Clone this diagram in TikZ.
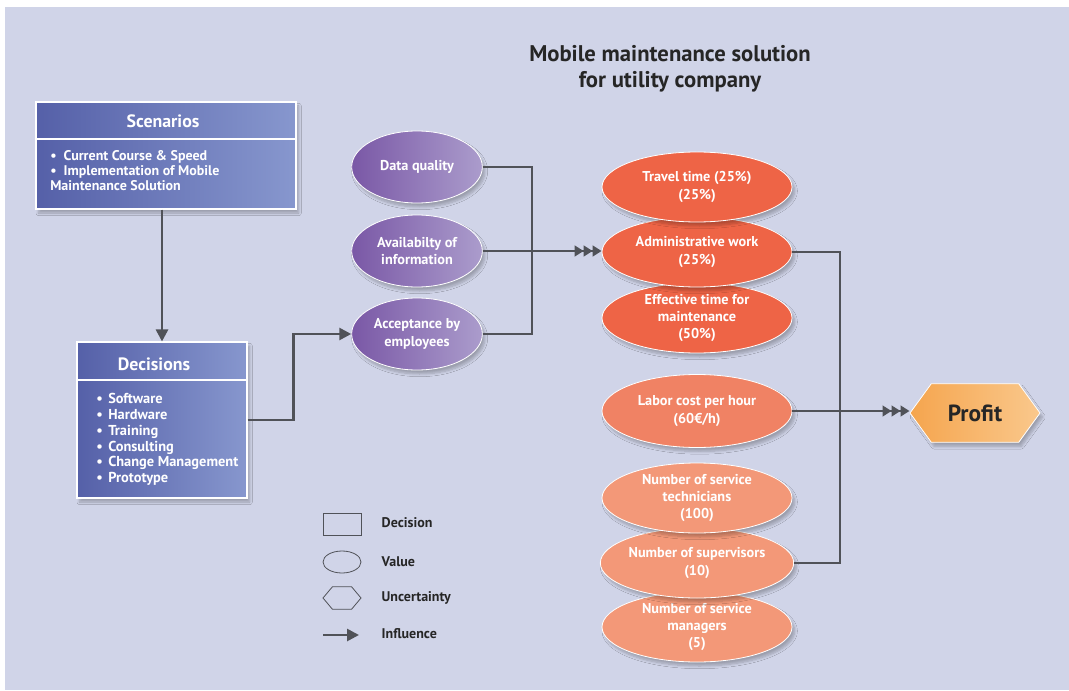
\documentclass[tikz,border=0pt]{standalone}
\usepackage{fontspec}
\setmainfont{PT Sans}
\usetikzlibrary{shapes.geometric,shapes.symbols,arrows.meta,shadows.blur}
\definecolor{panel}{HTML}{D0D4E8}
\definecolor{ink}{HTML}{262626}
\definecolor{conn}{HTML}{505258}
\definecolor{boxl}{HTML}{5560A8}
\definecolor{boxr}{HTML}{8797CE}
\definecolor{purl}{HTML}{7A58A6}
\definecolor{purr}{HTML}{AB9CCC}
\definecolor{redval}{HTML}{EE6446}
\definecolor{laborval}{HTML}{F08264}
\definecolor{salmon}{HTML}{F39878}
\definecolor{profl}{HTML}{F5A54E}
\definecolor{profr}{HTML}{FAC88C}
\tikzset{
  soft/.style={blur shadow={shadow xshift=2pt,shadow yshift=-3pt,shadow opacity=25,shadow blur steps=6}},
  box/.style={draw=white,line width=0.8pt,left color=boxl,right color=boxr,inner sep=0pt,soft},
  val/.style={ellipse,draw=white,line width=0.6pt,inner sep=0pt,align=center,text=white,
    font=\bfseries\fontsize{10.7}{13}\selectfont,soft},
  purval/.style={val,left color=purl,right color=purr,minimum width=98pt,minimum height=54pt},
  redv/.style={val,fill=#1,minimum width=142.5pt,minimum height=52.5pt},
  conn/.style={draw=conn,line width=2pt},
  tip/.style={conn,-{Triangle[length=9pt,width=9pt]}},
  tips/.style={conn,-{Triangle[length=6.75pt,width=8pt]Triangle[length=6.75pt,width=8pt]Triangle[length=6.75pt,width=8pt]}},
  legtxt/.style={anchor=west,text=ink,font=\bfseries\fontsize{10.5}{12}\selectfont},
  legshape/.style={draw=conn,line width=0.6pt,inner sep=0pt}
}
\begin{document}
\begin{tikzpicture}[x=0.75pt,y=-0.75pt]
\useasboundingbox (0,0) rectangle (1069,691);
\fill[panel] (5,7) rectangle (1069,690);
\node[text=ink,align=center,font=\bfseries\fontsize{17}{19.5}\selectfont] (title) at (670,69) {Mobile maintenance solution\\for utility company};

\node[box,minimum width=195pt,minimum height=80.25pt] (scen) at (166,155.5) {};
\draw[white,line width=0.8pt] (scen.west |- 0,139) -- (scen.east |- 0,139);
\node[text=white,font=\bfseries\fontsize{13.4}{15}\selectfont] (scentitle) at (163,121) {Scenarios};
\node[anchor=west,inner sep=0pt,align=left,text=white,font=\bfseries\fontsize{10.5}{11.25}\selectfont] (scenbody) at (50,171)
  {\makebox[10pt][l]{\textbullet}Current Course \& Speed\\\makebox[10pt][l]{\textbullet}Implementation of Mobile\\Maintenance Solution};

\node[box,minimum width=127.5pt,minimum height=117pt] (dec) at (162,420) {};
\draw[white,line width=0.8pt] (dec.west |- 0,380) -- (dec.east |- 0,380);
\node[text=white,font=\bfseries\fontsize{13.4}{15}\selectfont] (dectitle) at (154,364) {Decisions};
\node[anchor=west,inner sep=0pt,align=left,text=white,font=\bfseries\fontsize{10.8}{11.85}\selectfont] (decbody) at (96,439.5)
  {\makebox[9pt][l]{\textbullet}Software\\\makebox[9pt][l]{\textbullet}Hardware\\\makebox[9pt][l]{\textbullet}Training\\
   \makebox[9pt][l]{\textbullet}Consulting\\\makebox[9pt][l]{\textbullet}Change Management\\\makebox[9pt][l]{\textbullet}Prototype};

\node[purval] (dq) at (417,167) {Data quality};
\node[purval] (avail) at (417,251) {Availabilty of\\information};
\node[purval] (acc) at (417,334) {Acceptance by\\employees};

\node[redv=redval] (eff) at (697,318) {Effective time for\\maintenance\\(50\%)};
\node[redv=redval] (admin) at (697,252) {Administrative work\\(25\%)};
\node[redv=redval] (travel) at (697,187) {Travel time (25\%)\\(25\%)};
\node[redv=laborval,minimum height=54.75pt] (labor) at (697,411) {Labor cost per hour\\(60€/h)};
\node[redv=salmon] (mgr) at (697,627) {Number of service\\managers\\(5)};
\node[redv=salmon] (sup) at (697,563) {Number of supervisors\\(10)};
\node[redv=salmon] (tech) at (697,498) {Number of service\\technicians\\(100)};

\node[signal,signal to=west and east,signal pointer angle=108,draw=white,line width=0.6pt,
  left color=profl,right color=profr,minimum width=97.5pt,minimum height=44pt,inner sep=0pt,
  text=ink,font=\bfseries\fontsize{17.5}{19}\selectfont,soft] (profit) at (975,413) {Profit};

\coordinate (jn) at (532,251);
\coordinate (jn2) at (840,411);
\draw[tip] (dec.north |- scen.south) -- (dec.north);
\draw[tip] (dec.east) -- ++(46,0) |- (acc.west);
\draw[conn] (dq.east) -| (jn);
\draw[conn] (acc.east) -| (jn);
\draw[tips] (avail.east) -- (avail.east -| admin.west);
\draw[conn] (admin.east) -| (jn2);
\draw[conn] (sup.east) -| (jn2);
\draw[tips] (labor.east) -- (labor.east -| profit.west);

\node[legshape,rectangle,minimum width=28.5pt,minimum height=16.5pt] (legdec) at (342,524) {};
\node[legshape,ellipse,minimum width=28.5pt,minimum height=16.5pt] (legval) at (342,562) {};
\node[legshape,signal,signal to=west and east,signal pointer angle=100,minimum width=28.5pt,minimum height=17pt] (legunc) at (342,598) {};
\coordinate (lega) at (323,635);
\coordinate (legb) at (359,635);
\draw[tip] (lega) -- (legb);
\node[legtxt] (legdectxt) at (377,523) {Decision};
\node[legtxt] (legvaltxt) at (377,562) {Value};
\node[legtxt] (leguntxt) at (377,598) {Uncertainty};
\node[legtxt] (leginftxt) at (377,634) {Influence};
\end{tikzpicture}
\end{document}
